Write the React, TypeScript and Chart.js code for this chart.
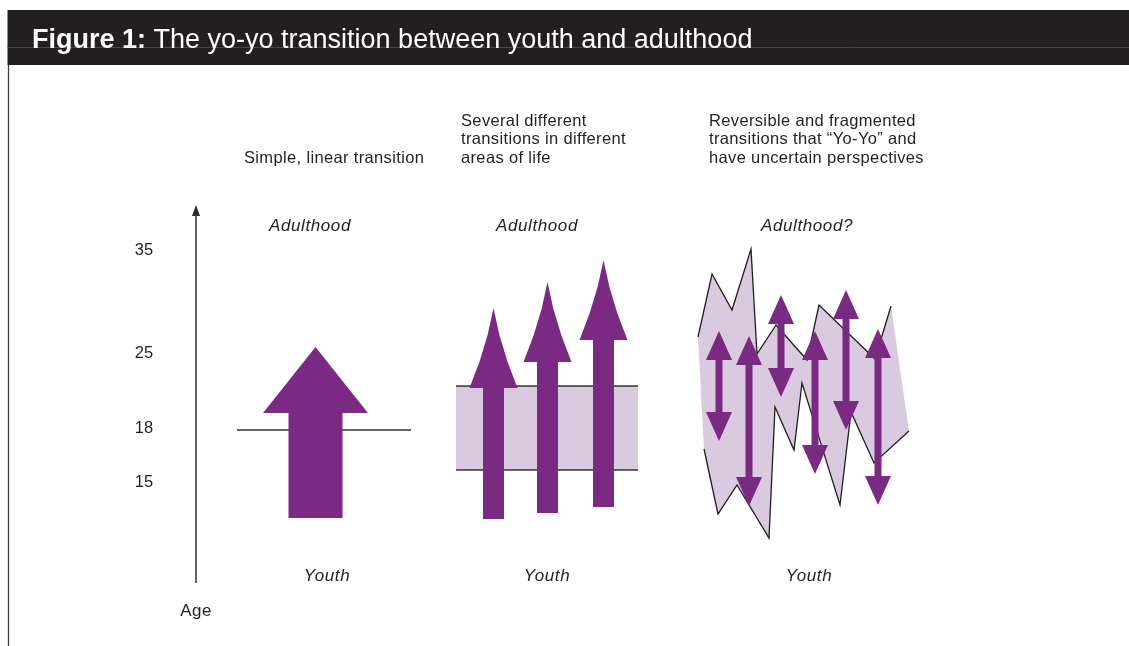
import React, { useEffect, useRef } from 'react';
import { Chart, registerables } from 'chart.js';

Chart.register(...registerables);

const W = 1129;
const H = 646;

// ---------------- data ----------------
const titleBold = 'Figure 1:';
const titleRest = ' The yo-yo transition between youth and adulthood';

const columnHeadings = [
  ['Simple, linear transition'],
  ['Several different', 'transitions in different', 'areas of life'],
  ['Reversible and fragmented', 'transitions that \u201CYo-Yo\u201D and', 'have uncertain perspectives'],
];
const topLabels = ['Adulthood', 'Adulthood', 'Adulthood?'];
const bottomLabels = ['Youth', 'Youth', 'Youth'];
const axisLabel = 'Age';

// age tick labels and their place on the (diagram-unit) vertical scale
const ageTickLabels = ['35', '25', '18', '15'];
const ageTickValues = [250, 353, 428, 482];

// column 1: one big arrow crossing a single threshold line
const simpleThresholdY = [430];
const simpleThresholdX = [237, 411];
const simpleArrowX = [315.5];
const simpleArrowFrom = [518];
const simpleArrowTo = [347];

// column 2: a band of transition ages and three arrows
const bandX = [456, 638];
const bandY = [386, 470];
const multiArrowX = [493.5, 547.5, 603.5];
const multiArrowFrom = [519, 513, 507];
const multiArrowTo = [308, 282, 260];

// column 3: fragmented zig-zag area and yo-yo double arrows
const yoyoTopX = [698, 712, 732, 751, 757, 776, 807, 819, 875, 891];
const yoyoTopY = [337, 274, 310, 249, 354, 325, 360, 305, 359, 306];
const yoyoBottomX = [909, 874, 851, 840, 802, 794, 775, 769, 737, 718, 704];
const yoyoBottomY = [431, 463, 412, 505, 383, 450, 407, 538, 485, 514, 449];
const yoyoArrowX = [719, 749, 781, 815, 846, 878];
const yoyoArrowTop = [331, 336, 295, 331, 290, 329];
const yoyoArrowBottom = [441, 506, 397, 474, 430, 505];

// ---------------- layout & style ----------------
const layout = {
  headingX: [244, 461, 709],
  headingY: [158, 121, 121],
  lineHeight: 18.5,
  topLabelX: [310, 537, 807],
  topLabelY: 226,
  bottomLabelX: [327, 547, 809],
  bottomLabelY: 576,
  tickX: 144,
  axisX: 196,
  axisTop: 205,
  axisBottom: 583,
  axisHeadW: 8,
  axisHeadL: 11,
  axisLabelY: 611,
  header: { left: 7.5, top: 10, bottom: 65, rule: 47, textX: 32, textY: 48 },
  simple: { shaft: 54, head: 105, headL: 66 },
  multi: { shaft: 21, head: 48, headL: 80, bow: 2.5 },
  yoyo: { shaft: 7, head: 26, headL: 29 },
};

const PURPLE = '#7b2a83';
const LAVENDER = '#d9cadf';
const INK = '#231f20';
const FONT = '"Liberation Sans", Arial, Helvetica, sans-serif';

type P = { x: number; y: number };

function singleArrow(cx: number, from: number, to: number, shaftW: number, headW: number, headL: number, bow = 0): P[] {
  const dir = to < from ? -1 : 1;
  const base = to - dir * headL;
  const s = shaftW / 2;
  const h = headW / 2;
  const side = (sign: number, t: number): P => ({
    x: cx + sign * (h * (1 - t) - bow * Math.sin(Math.PI * t)),
    y: base + dir * headL * t,
  });
  return [
    { x: cx - s, y: from },
    { x: cx - s, y: base },
    { x: cx - h, y: base },
    side(-1, 0.33),
    side(-1, 0.67),
    { x: cx, y: to },
    side(1, 0.67),
    side(1, 0.33),
    { x: cx + h, y: base },
    { x: cx + s, y: base },
    { x: cx + s, y: from },
  ];
}

function doubleArrow(cx: number, top: number, bottom: number, shaftW: number, headW: number, headL: number): P[] {
  const s = shaftW / 2;
  const h = headW / 2;
  return [
    { x: cx, y: top },
    { x: cx + h, y: top + headL },
    { x: cx + s, y: top + headL },
    { x: cx + s, y: bottom - headL },
    { x: cx + h, y: bottom - headL },
    { x: cx, y: bottom },
    { x: cx - h, y: bottom - headL },
    { x: cx - s, y: bottom - headL },
    { x: cx - s, y: top + headL },
    { x: cx - h, y: top + headL },
  ];
}

const zip = (xs: number[], ys: number[]): P[] => xs.map((x, i) => ({ x, y: ys[i] }));

function shape(data: P[], color: string, order: number) {
  return {
    data,
    showLine: true,
    fill: 'shape',
    backgroundColor: color,
    borderColor: color,
    borderWidth: 0,
    pointRadius: 0,
    pointHoverRadius: 0,
    tension: 0,
    order,
  };
}

function stroke(data: P[], color: string, width: number, order: number) {
  return {
    data,
    showLine: true,
    fill: false,
    borderColor: color,
    backgroundColor: color,
    borderWidth: width,
    pointRadius: 0,
    pointHoverRadius: 0,
    tension: 0,
    borderJoinStyle: 'miter',
    order,
  };
}

function buildDatasets() {
  const ds: any[] = [];
  // vertical age axis
  ds.push(stroke([{ x: layout.axisX, y: layout.axisBottom }, { x: layout.axisX, y: layout.axisTop + layout.axisHeadL - 1 }], '#3a3a3a', 1.6, 8));
  ds.push(shape([
    { x: layout.axisX, y: layout.axisTop },
    { x: layout.axisX + layout.axisHeadW / 2, y: layout.axisTop + layout.axisHeadL },
    { x: layout.axisX - layout.axisHeadW / 2, y: layout.axisTop + layout.axisHeadL },
  ], '#2a2a2a', 8));

  // column 1
  ds.push(stroke([{ x: simpleThresholdX[0], y: simpleThresholdY[0] }, { x: simpleThresholdX[1], y: simpleThresholdY[0] }], '#333', 1.3, 6));
  simpleArrowX.forEach((x, i) => {
    ds.push(shape(singleArrow(x, simpleArrowFrom[i], simpleArrowTo[i], layout.simple.shaft, layout.simple.head, layout.simple.headL), PURPLE, 1));
  });

  // column 2
  ds.push(shape([
    { x: bandX[0], y: bandY[0] },
    { x: bandX[1], y: bandY[0] },
    { x: bandX[1], y: bandY[1] },
    { x: bandX[0], y: bandY[1] },
  ], LAVENDER, 9));
  bandY.forEach((y) => {
    ds.push(stroke([{ x: bandX[0], y }, { x: bandX[1], y }], '#333', 1.3, 6));
  });
  multiArrowX.forEach((x, i) => {
    ds.push(shape(singleArrow(x, multiArrowFrom[i], multiArrowTo[i], layout.multi.shaft, layout.multi.head, layout.multi.headL, layout.multi.bow), PURPLE, 1));
  });

  // column 3
  const top = zip(yoyoTopX, yoyoTopY);
  const bottom = zip(yoyoBottomX, yoyoBottomY);
  ds.push(shape(top.concat(bottom), LAVENDER, 9));
  ds.push(stroke(top, '#1e1e1e', 1.3, 6));
  ds.push(stroke(bottom, '#1e1e1e', 1.3, 6));
  yoyoArrowX.forEach((x, i) => {
    ds.push(shape(doubleArrow(x, yoyoArrowTop[i], yoyoArrowBottom[i], layout.yoyo.shaft, layout.yoyo.head, layout.yoyo.headL), PURPLE, 1));
  });
  return ds;
}

const decorPlugin = {
  id: 'figureDecor',
  beforeDraw(chart: any) {
    const { ctx } = chart;
    const sx = chart.scales.x;
    const sy = chart.scales.y;
    const hd = layout.header;
    ctx.save();
    ctx.fillStyle = '#ffffff';
    ctx.fillRect(0, 0, chart.width, chart.height);
    const l = sx.getPixelForValue(hd.left);
    const t = sy.getPixelForValue(hd.top);
    const b = sy.getPixelForValue(hd.bottom);
    ctx.fillStyle = INK;
    ctx.fillRect(l, t, sx.getPixelForValue(W) - l, b - t);
    // faint rule inside the band
    ctx.strokeStyle = '#4a4647';
    ctx.lineWidth = 1;
    ctx.beginPath();
    ctx.moveTo(l, sy.getPixelForValue(hd.rule) + 0.5);
    ctx.lineTo(sx.getPixelForValue(W), sy.getPixelForValue(hd.rule) + 0.5);
    ctx.stroke();
    // left frame line
    ctx.strokeStyle = '#3d3d3d';
    ctx.lineWidth = 1.3;
    ctx.beginPath();
    ctx.moveTo(l + 1, b);
    ctx.lineTo(l + 1, sy.getPixelForValue(H));
    ctx.stroke();
    ctx.restore();
  },
  afterDraw(chart: any) {
    const { ctx } = chart;
    const sx = chart.scales.x;
    const sy = chart.scales.y;
    const X = (v: number) => sx.getPixelForValue(v);
    const Y = (v: number) => sy.getPixelForValue(v);
    const hd = layout.header;
    ctx.save();
    // title
    ctx.fillStyle = '#ffffff';
    ctx.textBaseline = 'alphabetic';
    ctx.textAlign = 'left';
    ctx.font = `bold 27px ${FONT}`;
    ctx.fillText(titleBold, X(hd.textX), Y(hd.textY));
    const bw = ctx.measureText(titleBold).width;
    ctx.font = `27px ${FONT}`;
    ctx.fillText(titleRest, X(hd.textX) + bw, Y(hd.textY));

    ctx.fillStyle = INK;
    ctx.textBaseline = 'middle';
    // column headings
    ctx.font = `16.5px ${FONT}`;
    (ctx as any).letterSpacing = '0.35px';
    columnHeadings.forEach((lines, c) => {
      lines.forEach((line, j) => {
        ctx.fillText(line, X(layout.headingX[c]), Y(layout.headingY[c] + j * layout.lineHeight));
      });
    });
    // italic labels
    ctx.textAlign = 'center';
    ctx.font = `italic 17px ${FONT}`;
    (ctx as any).letterSpacing = '0.6px';
    topLabels.forEach((s, c) => ctx.fillText(s, X(layout.topLabelX[c]), Y(layout.topLabelY)));
    bottomLabels.forEach((s, c) => ctx.fillText(s, X(layout.bottomLabelX[c]), Y(layout.bottomLabelY)));
    // age ticks
    (ctx as any).letterSpacing = '0px';
    ctx.font = `16.5px ${FONT}`;
    ageTickLabels.forEach((s, i) => ctx.fillText(s, X(layout.tickX), Y(ageTickValues[i])));
    ctx.font = `17px ${FONT}`;
    (ctx as any).letterSpacing = '0.5px';
    ctx.fillText(axisLabel, X(layout.axisX), Y(layout.axisLabelY));
    ctx.restore();
  },
};

export default function App() {
  const ref = useRef<HTMLCanvasElement | null>(null);
  useEffect(() => {
    if (!ref.current) return;
    const chart = new Chart(ref.current, {
      type: 'scatter',
      data: { datasets: buildDatasets() },
      options: {
        animation: false,
        responsive: false,
        maintainAspectRatio: false,
        devicePixelRatio: 1,
        events: [],
        layout: { padding: 0 },
        scales: {
          x: { type: 'linear', min: 0, max: W, display: false },
          y: { type: 'linear', min: 0, max: H, reverse: true, display: false },
        },
        plugins: {
          legend: { display: false },
          tooltip: { enabled: false },
          title: { display: false },
        },
      } as any,
      plugins: [decorPlugin],
    });
    return () => chart.destroy();
  }, []);
  return (
    <div style={{ position: 'fixed', left: 0, top: 0, width: W, height: H, background: '#fff' }}>
      <canvas ref={ref} width={W} height={H} style={{ display: 'block', width: W, height: H }} />
    </div>
  );
}
